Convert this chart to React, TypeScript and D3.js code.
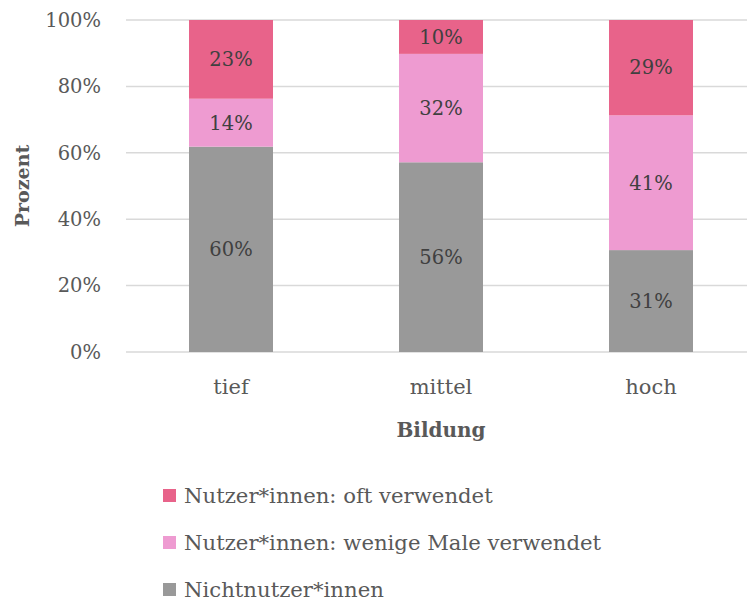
import React from "react";
import * as d3 from "d3";

const categories = ["tief", "mittel", "hoch"];
const seriesNames = [
  "Nichtnutzer*innen",
  "Nutzer*innen: wenige Male verwendet",
  "Nutzer*innen: oft verwendet",
];
const nichtnutzer = [60, 56, 31];
const wenige = [14, 32, 41];
const oft = [23, 10, 29];
const yTicks = [0, 20, 40, 60, 80, 100];
const colors = ["#999999", "#EE9BD1", "#E8638A"];

const FONT = "'DejaVu Serif', 'Liberation Serif', serif";

export default function App() {
  const W = 747, H = 601;
  const x = d3.scaleBand().domain(categories).range([126, 756]).paddingInner(0.6).paddingOuter(0.3);
  const y = d3.scaleLinear().domain([0, 100]).range([352, 20]);
  const rows = categories.map((c, i) => {
    const vals = [nichtnutzer[i], wenige[i], oft[i]];
    const total = d3.sum(vals);
    const obj: any = { cat: c };
    vals.forEach((v, k) => (obj["s" + k] = (v / total) * 100));
    obj.raw = vals;
    return obj;
  });
  const stack = d3.stack<any>().keys(["s0", "s1", "s2"]);
  const layers = stack(rows);
  const legendOrder = [2, 1, 0];
  return (
    <svg width={W} height={H} style={{ display: "block", position: "absolute", left: 0, top: 0 }} fontFamily={FONT}>
      {yTicks.map((t) => (
        <g key={t}>
          <line x1={126} x2={747} y1={y(t)} y2={y(t)} stroke="#D9D9D9" strokeWidth={1.5} />
          <text x={101} y={y(t)} dy="0.35em" textAnchor="end" fontSize={19.5} fill="#595959">
            {t}%
          </text>
        </g>
      ))}
      {layers.map((layer, k) =>
        layer.map((d, i) => {
          const bx = x(categories[i])!;
          const y0 = y(d[0]), y1 = y(d[1]);
          return (
            <g key={k + "-" + i}>
              <rect x={bx} y={y1} width={x.bandwidth()} height={y0 - y1} fill={colors[k]} />
              <text x={bx + x.bandwidth() / 2} y={(y0 + y1) / 2} dy="0.35em" textAnchor="middle" fontSize={19.5} fill="#404040">
                {rows[i].raw[k]}%
              </text>
            </g>
          );
        })
      )}
      {categories.map((c) => (
        <text key={c} x={x(c)! + x.bandwidth() / 2} y={387} dy="0.35em" textAnchor="middle" fontSize={21} fill="#595959">
          {c}
        </text>
      ))}
      <text x={441} y={430} dy="0.35em" textAnchor="middle" fontSize={20} fontWeight="bold" fill="#595959">
        Bildung
      </text>
      <text transform={`translate(22,186) rotate(-90)`} dy="0.35em" textAnchor="middle" fontSize={19} fontWeight="bold" fill="#595959">
        Prozent
      </text>
      {legendOrder.map((k, j) => {
        const cy = 496 + j * 47;
        return (
          <g key={k}>
            <rect x={163} y={cy - 7} width={13} height={13} fill={colors[k]} />
            <text x={184} y={cy} dy="0.35em" fontSize={21.2} fill="#595959">
              {seriesNames[k]}
            </text>
          </g>
        );
      })}
    </svg>
  );
}
